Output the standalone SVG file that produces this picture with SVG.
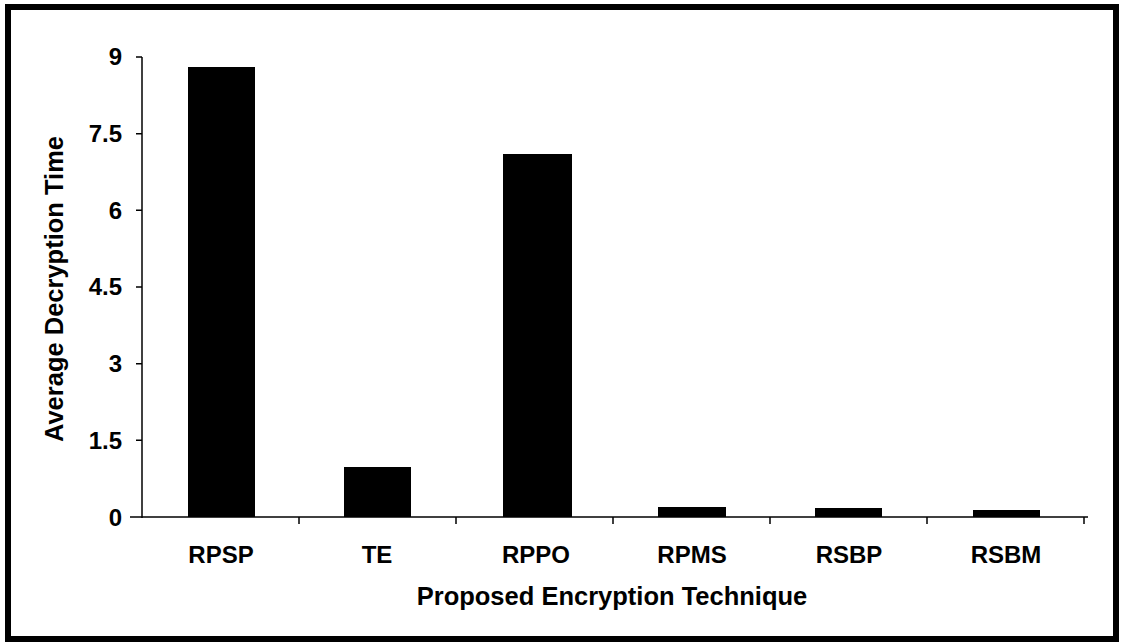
<svg xmlns="http://www.w3.org/2000/svg" width="1128" height="644" viewBox="0 0 1128 644">
<style>
text{font-family:"Liberation Sans",Arial,sans-serif;font-weight:bold;fill:#000}
.tick{font-size:24px;text-anchor:end}
.cat{font-size:24px;text-anchor:middle}
.title{font-size:25.5px;text-anchor:middle}
.axis{stroke:#000;stroke-width:1.5;fill:none}
.bar{fill:#000}
</style>
<rect x="0" y="0" width="1128" height="644" fill="#fff"/>
<rect id="frame" x="8" y="7" width="1108" height="632" fill="none" stroke="#000" stroke-width="6"/>
<g id="axes">
<line class="axis" x1="142" y1="57" x2="142" y2="518"/>
<line class="axis" x1="130" y1="517" x2="1088" y2="517"/>
<path class="axis" d="M136 57H142M136 133.7H142M136 210.3H142M136 287H142M136 363.7H142M136 440.3H142"/>
<path class="axis" d="M299 517V524M456 517V524M613 517V524M770 517V524M927 517V524M1084 517V524"/>
</g>
<g id="ytick-labels">
<text class="tick" x="122" y="65">9</text>
<text class="tick" x="122" y="142">7.5</text>
<text class="tick" x="122" y="219">6</text>
<text class="tick" x="122" y="295">4.5</text>
<text class="tick" x="122" y="372">3</text>
<text class="tick" x="122" y="449">1.5</text>
<text class="tick" x="122" y="526">0</text>
</g>
<g id="bars">
<g id="bar-RPSP"><rect class="bar" x="188" y="67" width="67" height="450"/><text class="cat" x="221" y="563">RPSP</text></g>
<g id="bar-TE"><rect class="bar" x="344" y="467" width="67" height="50"/><text class="cat" x="377" y="563">TE</text></g>
<g id="bar-RPPO"><rect class="bar" x="503" y="154" width="69" height="363"/><text class="cat" x="536" y="563">RPPO</text></g>
<g id="bar-RPMS"><rect class="bar" x="658" y="507" width="68" height="10"/><text class="cat" x="692" y="563">RPMS</text></g>
<g id="bar-RSBP"><rect class="bar" x="815" y="508" width="67" height="9"/><text class="cat" x="849" y="563">RSBP</text></g>
<g id="bar-RSBM"><rect class="bar" x="973" y="510" width="67" height="7"/><text class="cat" x="1006" y="563">RSBM</text></g>
</g>
<g id="titles">
<text class="title" x="612" y="605">Proposed Encryption Technique</text>
<text class="title" transform="translate(63,289) rotate(-90)" x="0" y="0">Average Decryption Time</text>
</g>
</svg>
